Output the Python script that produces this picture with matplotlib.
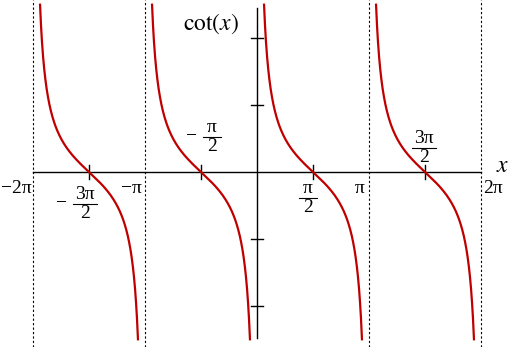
import numpy as np
import matplotlib
matplotlib.use("Agg")
import matplotlib.pyplot as plt

plt.rcParams['font.family'] = 'Liberation Serif'
plt.rcParams['mathtext.fontset'] = 'stix'

# branches of cot(x) between asymptotes (x in units of pi)
branches = [(-2, -1), (-1, 0), (0, 1), (1, 2)]
asymptotes = [-2, -1, 1, 2]
ylim_curve = 5.0
yticks = [-4, -2, 2, 4]
halfpi_ticks = [-1.5, -0.5, 0.5, 1.5]

# plain labels: (text, x pixel of anchor, ha)
pi_labels = [("−2π", 1, 'left'), ("−π", 121, 'left'), ("π", 355, 'left'), ("2π", 483, 'left')]
# fraction labels: (numerator, denominator, minus, centre x px, bar y px)
frac_labels = [("3π", "2", True, 85, 204), ("π", "2", True, 212, 137),
               ("π", "2", False, 308, 198), ("3π", "2", False, 424, 148)]

px_per_pi = 112.0
px_per_unit = 33.5
x0_px, y0_px = 257, 172
W, H = 511, 347


def px2x(p):
    return (p - x0_px) / px_per_pi


def px2y(p):
    return (y0_px - p) / px_per_unit


fig = plt.figure(figsize=(W / 100, H / 100), dpi=100)
ax = fig.add_axes([0, 0, 1, 1])
ax.set_xlim(px2x(0), px2x(W))
ax.set_ylim(px2y(H), px2y(0))
ax.axis('off')

for a, b in branches:
    xs = np.linspace(a + 0.001, b - 0.001, 2000)
    ys = 1 / np.tan(xs * np.pi)
    m = np.abs(ys) <= ylim_curve
    ax.plot(xs[m], ys[m], color='#c00000', lw=1.6, zorder=3)

for a in asymptotes:
    ax.axvline(a, color='black', lw=0.8, ls=(0, (2, 2)), zorder=1)

# axes
ax.plot([-2, 2], [0, 0], color='black', lw=1.0, zorder=2)
ax.plot([0, 0], [-4.95, 4.9], color='black', lw=1.0, zorder=2)
for t in yticks:
    ax.plot([-0.05, 0.05], [t, t], color='black', lw=1.0)
for t in halfpi_ticks:
    ax.plot([t, t], [-0.2, 0.2], color='black', lw=1.0)

fs = 14
for txt, xp, ha in pi_labels:
    ax.text(px2x(xp), px2y(189), txt, fontsize=fs, ha=ha, va='center')
ax.text(px2x(496), px2y(167), r'$x$', fontsize=17, ha='left', va='center')
ax.text(px2x(211), px2y(24), r'$\mathrm{cot}(x)$', fontsize=17, ha='center', va='center')

for num, den, minus, xc, yb in frac_labels:
    ax.text(px2x(xc), px2y(yb - 1), num, fontsize=fs, ha='center', va='bottom')
    ax.text(px2x(xc), px2y(yb + 1), den, fontsize=fs, ha='center', va='top')
    half = 9 if len(num) == 1 else 12
    ax.plot([px2x(xc - half), px2x(xc + half)], [px2y(yb), px2y(yb)], color='black', lw=0.8)
    if minus:
        ax.text(px2x(xc - half - 6), px2y(yb), "−", fontsize=fs, ha='right', va='center')

fig.savefig('out.png', dpi=100)
